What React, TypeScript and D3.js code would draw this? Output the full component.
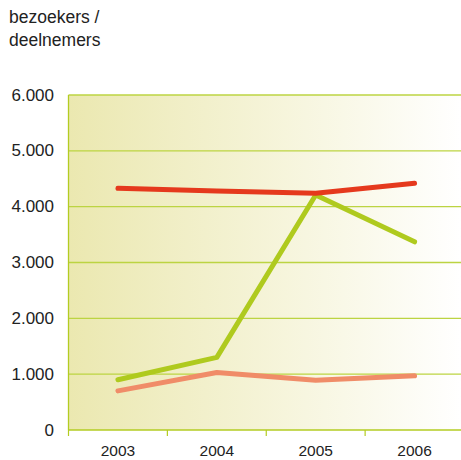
import React from "react";
import * as d3 from "d3";

const years = ["2003", "2004", "2005", "2006"];
const redSeries = [4330, 4280, 4240, 4420];
const greenSeries = [900, 1300, 4210, 3370];
const salmonSeries = [700, 1030, 890, 970];
const yTicks = [0, 1000, 2000, 3000, 4000, 5000, 6000];
const yTickLabels = ["0", "1.000", "2.000", "3.000", "4.000", "5.000", "6.000"];

const W = 461;
const H = 460;
const left = 68.5;
const right = 464;
const top = 95;
const bottom = 430;

export default function App() {
  const x = d3.scaleBand().domain(years).range([left, right]);
  const y = d3.scaleLinear().domain([0, 6000]).range([bottom, top]);
  const line = d3
    .line<number>()
    .x((_, i) => (x(years[i]) as number) + x.bandwidth() / 2)
    .y((d) => y(d));
  const series = [
    { data: salmonSeries, color: "#f08c68" },
    { data: greenSeries, color: "#afca1e" },
    { data: redSeries, color: "#e5391d" },
  ];
  const font = "'Liberation Sans', Arial, sans-serif";
  return (
    <svg
      width={W}
      height={H}
      style={{ position: "absolute", left: 0, top: 0, display: "block" }}
    >
      <defs>
        <linearGradient id="bg" x1="0" x2="1" y1="0" y2="0">
          <stop offset="0" stopColor="#ebe8b0" />
          <stop offset="1" stopColor="#ffffff" />
        </linearGradient>
      </defs>
      <rect x={0} y={0} width={W} height={H} fill="#fff" />
      <rect x={left} y={top} width={W - left} height={bottom - top} fill="url(#bg)" />
      {yTicks.map((t, i) => (
        <g key={t}>
          {t > 0 && (
            <line x1={left} x2={W} y1={y(t)} y2={y(t)} stroke="#bcd442" strokeWidth={1.3} />
          )}
          <text
            x={54}
            y={y(t) + 5.5}
            textAnchor="end"
            fontFamily={font}
            fontSize={17}
            fill="#222"
          >
            {yTickLabels[i]}
          </text>
        </g>
      ))}
      <line x1={left} x2={left} y1={top} y2={bottom} stroke="#b3cc22" strokeWidth={1.3} />
      <line x1={left} x2={W} y1={bottom} y2={bottom} stroke="#b3cc22" strokeWidth={1.5} />
      {years.map((yr) => (
        <g key={yr}>
          <line
            x1={x(yr) as number}
            x2={x(yr) as number}
            y1={bottom}
            y2={bottom + 6}
            stroke="#b3cc22"
            strokeWidth={1.2}
          />
          <text
            x={(x(yr) as number) + x.bandwidth() / 2}
            y={456}
            textAnchor="middle"
            fontFamily={font}
            fontSize={15.5}
            fill="#222"
          >
            {yr}
          </text>
        </g>
      ))}
      {series.map((s, i) => (
        <path
          key={i}
          d={line(s.data) || ""}
          fill="none"
          stroke={s.color}
          strokeWidth={5}
          strokeLinecap="round"
          strokeLinejoin="round"
        />
      ))}
      <text x={9} y={23} fontFamily={font} fontSize={17.5} fill="#222">
        bezoekers /
      </text>
      <text x={9} y={46} fontFamily={font} fontSize={17.5} fill="#222">
        deelnemers
      </text>
    </svg>
  );
}
